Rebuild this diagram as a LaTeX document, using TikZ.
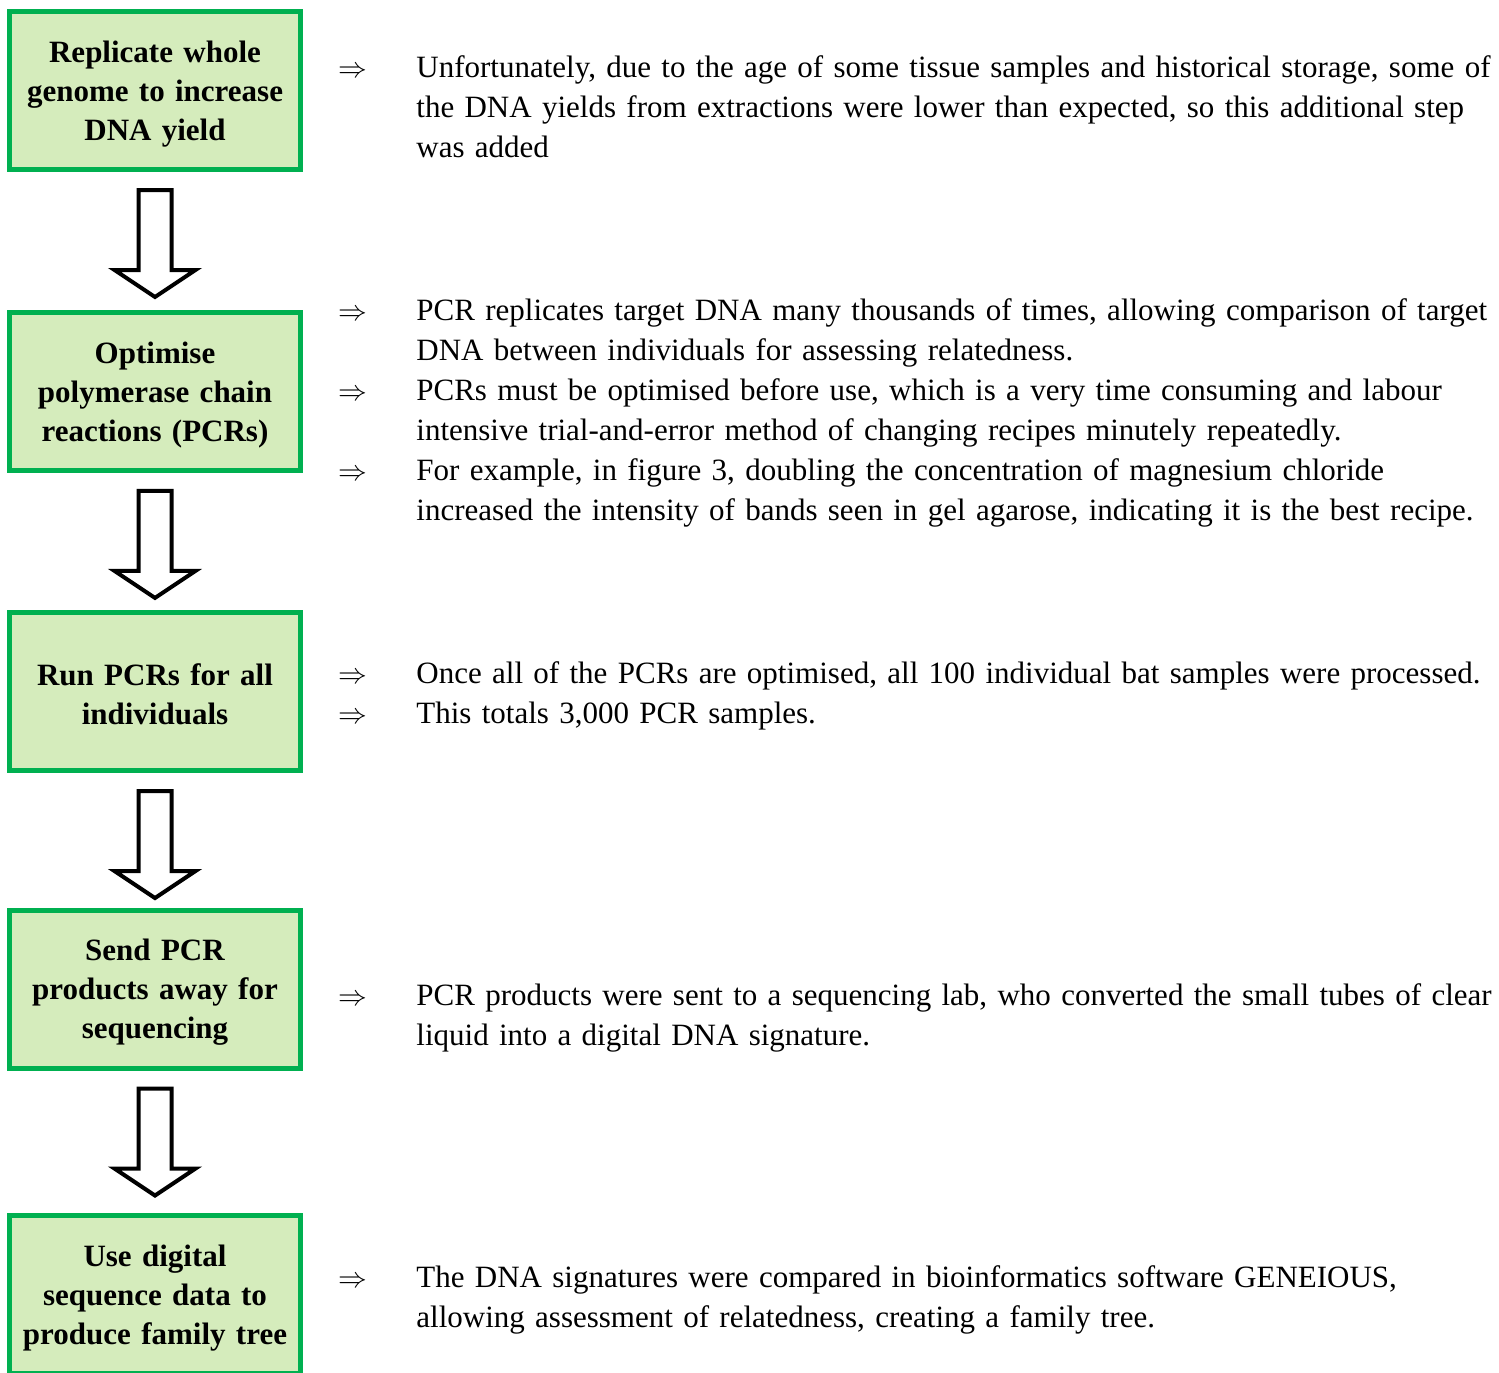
\documentclass[tikz,border=0pt]{standalone}
\usepackage{fontspec}
\setmainfont{Liberation Serif}
\usetikzlibrary{calc}
\definecolor{boxgreen}{RGB}{0,176,80}
\definecolor{boxfill}{RGB}{213,236,188}
\newcommand{\blockarr}[1]{%
  \draw[barrow] ($(#1.south)+(-16.5,18)$) -- ++(33,0) -- ++(0,80) -- ++(24,0)
    -- ++(-40.5,27) -- ++(-40.5,-27) -- ++(24,0) -- cycle;}
\newcommand{\firststrut}{\rule{0pt}{14pt}}
\begin{document}
\begin{tikzpicture}[x=0.5pt,y=-0.5pt,
  stepbox/.style={draw=boxgreen, fill=boxfill, line width=2.5pt,
    minimum width=145.5pt, minimum height=79pt, inner sep=0pt, text width=142pt,
    execute at begin node={\centering},
    font=\bfseries\fontsize{15.5pt}{19.5pt}\selectfont},
  barrow/.style={draw=black, fill=white, line width=2pt, line join=miter},
  desc/.style={anchor=base west, text width=560pt, inner sep=0pt,
    font=\fontsize{15.5pt}{20pt}\selectfont},
  bul/.style={anchor=base west, inner sep=0pt, font=\fontsize{15pt}{15pt}\selectfont}]
\useasboundingbox (0,0) rectangle (1499,1372);

% boxes
\node[stepbox] (b1) at (155,90.5) {\firststrut Replicate whole\\genome to increase\\DNA yield};
\node[stepbox] (b2) at (155,391.4) {\firststrut Optimise\\polymerase chain\\reactions (PCRs)};
\node[stepbox] (b3) at (155,691.5) {\firststrut Run PCRs for all\\individuals};
\node[stepbox] (b4) at (155,989) {\firststrut Send PCR\\products away for\\sequencing};
\node[stepbox] (b5) at (155,1294.5) {\firststrut Use digital\\sequence data to\\produce family tree};

% block arrows
\blockarr{b1}
\blockarr{b2}
\blockarr{b3}
\blockarr{b4}

% descriptions
\node[bul] (a1) at (338,77) {$\Rightarrow$};
\node[desc] (t1) at (416,77) {Unfortunately, due to the age of some tissue samples and historical storage, some of\newline the DNA yields from extractions were lower than expected, so this additional step\newline was added};

\node[bul] (a2) at (338,320) {$\Rightarrow$};
\node[desc] (t2) at (416,320) {PCR replicates target DNA many thousands of times, allowing comparison of target\newline DNA between individuals for assessing relatedness.};
\node[bul] (a3) at (338,400) {$\Rightarrow$};
\node[desc] (t3) at (416,400) {PCRs must be optimised before use, which is a very time consuming and labour\newline intensive trial-and-error method of changing recipes minutely repeatedly.};
\node[bul] (a4) at (338,480) {$\Rightarrow$};
\node[desc] (t4) at (416,480) {For example, in figure 3, doubling the concentration of magnesium chloride\newline increased the intensity of bands seen in gel agarose, indicating it is the best recipe.};

\node[bul] (a5) at (338,683) {$\Rightarrow$};
\node[desc] (t5) at (416,683) {Once all of the PCRs are optimised, all 100 individual bat samples were processed.};
\node[bul] (a6) at (338,723) {$\Rightarrow$};
\node[desc] (t6) at (416,723) {This totals 3,000 PCR samples.};

\node[bul] (a7) at (338,1005) {$\Rightarrow$};
\node[desc] (t7) at (416,1005) {PCR products were sent to a sequencing lab, who converted the small tubes of clear\newline liquid into a digital DNA signature.};

\node[bul] (a8) at (338,1287) {$\Rightarrow$};
\node[desc] (t8) at (416,1287) {The DNA signatures were compared in bioinformatics software GENEIOUS,\newline allowing assessment of relatedness, creating a family tree.};
\end{tikzpicture}
\end{document}
